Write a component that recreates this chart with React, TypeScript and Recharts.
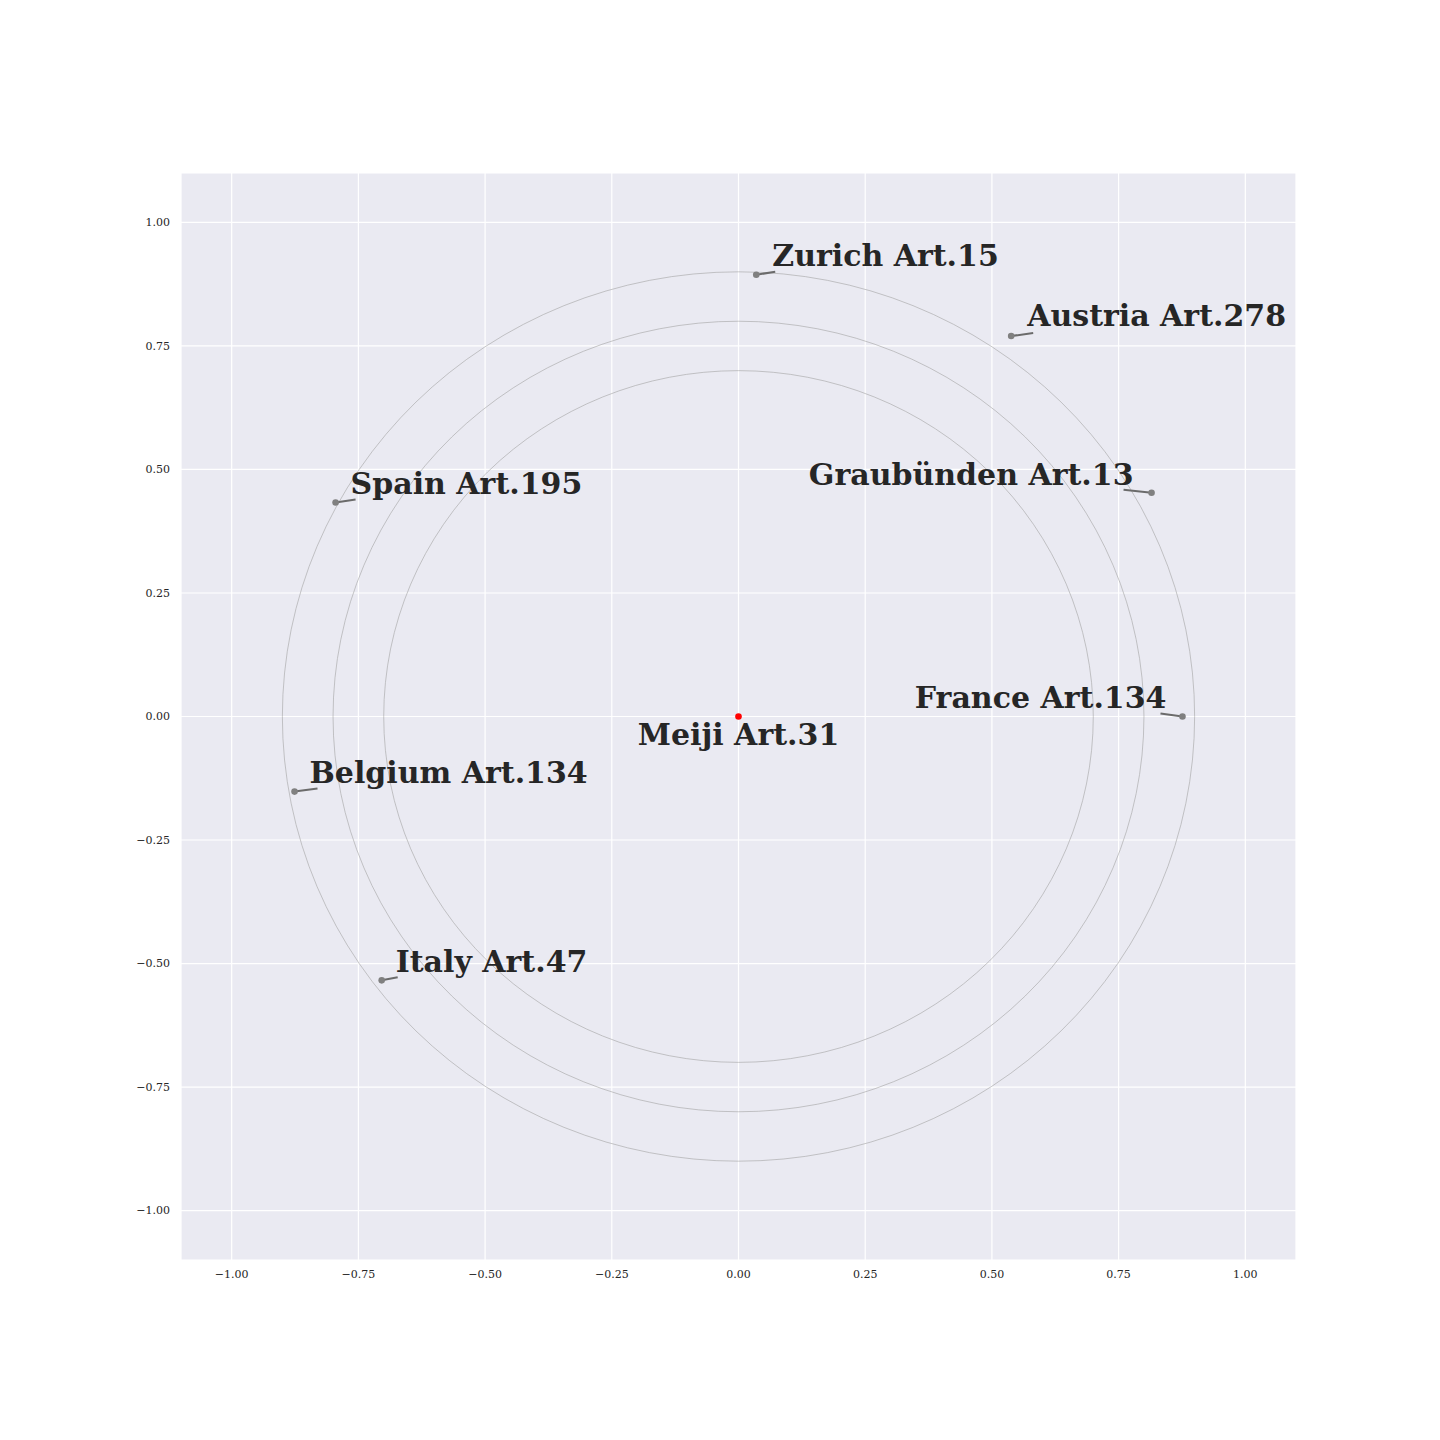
import { CartesianGrid, ReferenceArea, Scatter, ScatterChart, XAxis, YAxis } from 'recharts';

// anchor constitution and the articles it is compared with
const CENTER_NAME = 'Meiji';
const CENTER_ARTICLE = 'Art.31';
const CENTER_X = [0];
const CENTER_Y = [0];

const COUNTRIES = ['Zurich', 'Austria', 'Graubünden', 'France', 'Spain', 'Belgium', 'Italy'];
const ARTICLES = ['Art.15', 'Art.278', 'Art.13', 'Art.134', 'Art.195', 'Art.134', 'Art.47'];
const X_VALUES = [0.035, 0.538, 0.815, 0.876, -0.795, -0.876, -0.704];
const Y_VALUES = [0.894, 0.77, 0.453, 0.0, 0.433, -0.152, -0.534];

const RING_RADII = [0.7, 0.8, 0.9];
const TICKS = [-1, -0.75, -0.5, -0.25, 0, 0.25, 0.5, 0.75, 1];

// label placement relative to its point (px): text anchor offset + leader line end
const LABEL_LAYOUT: Record<string, { dx: number; dy: number; anchor: 'start' | 'end' | 'middle'; lx: number; ly: number }> = {
  Zurich: { dx: 16, dy: -9, anchor: 'start', lx: 19, ly: -3 },
  Austria: { dx: 16, dy: -10, anchor: 'start', lx: 22, ly: -3 },
  'Graubünden': { dx: -18, dy: -8, anchor: 'end', lx: -28, ly: -3 },
  France: { dx: -16, dy: -9, anchor: 'end', lx: -22, ly: -3 },
  Spain: { dx: 15, dy: -9, anchor: 'start', lx: 20, ly: -3 },
  Belgium: { dx: 15, dy: -9, anchor: 'start', lx: 23, ly: -3 },
  Italy: { dx: 14, dy: -8, anchor: 'start', lx: 16, ly: -3 },
  Meiji: { dx: 0, dy: 28, anchor: 'middle', lx: 0, ly: 0 },
};

const points = COUNTRIES.map((name, i) => ({
  name,
  article: ARTICLES[i],
  x: X_VALUES[i],
  y: Y_VALUES[i],
}));

const center = CENTER_X.map((x, i) => ({ name: CENTER_NAME, article: CENTER_ARTICLE, x, y: CENTER_Y[i] }));

const LABEL_FONT = 'DejaVu Serif, Liberation Serif, serif';

const fmtTick = (v: number) => v.toFixed(2).replace('-', '\u2212');

function LabeledPoint(props: any) {
  const { cx, cy, payload, color } = props;
  const lay = LABEL_LAYOUT[payload.name];
  return (
    <g>
      {(lay.lx !== 0 || lay.ly !== 0) && (
        <line x1={cx} y1={cy} x2={cx + lay.lx} y2={cy + lay.ly} stroke="#6b6b6b" strokeWidth={2} />
      )}
      <circle cx={cx} cy={cy} r={3.3} fill={color} />
      <text
        x={cx + lay.dx}
        y={cy + lay.dy}
        textAnchor={lay.anchor}
        fontFamily={LABEL_FONT}
        fontWeight="bold"
        fontSize={30}
        fill="#262626"
      >
        {`${payload.name} ${payload.article}`}
      </text>
    </g>
  );
}

function Ring(props: any) {
  const { x, y, width, height } = props;
  return (
    <ellipse
      cx={x + width / 2}
      cy={y + height / 2}
      rx={width / 2}
      ry={height / 2}
      fill="none"
      stroke="#a3a3a3"
      strokeWidth={0.6}
    />
  );
}

export default function App() {
  return (
    <div style={{ position: 'absolute', left: 0, top: 0, width: 1440, height: 1440, background: '#fff' }}>
      <ScatterChart width={1440} height={1440} margin={{ top: 173, right: 144, bottom: 150, left: 0 }}>
        <CartesianGrid fill="#EAEAF2" stroke="#ffffff" strokeWidth={1.2} />
        <XAxis
          type="number"
          dataKey="x"
          domain={[-1.1, 1.1]}
          ticks={TICKS}
          tickFormatter={fmtTick}
          axisLine={false}
          tickLine={false}
          tickSize={0}
          tickMargin={10}
          height={30}
          allowDataOverflow
          tick={{ fontFamily: LABEL_FONT, fontSize: 11, fill: '#262626' }}
        />
        <YAxis
          type="number"
          dataKey="y"
          domain={[-1.1, 1.1]}
          ticks={TICKS}
          tickFormatter={fmtTick}
          axisLine={false}
          tickLine={false}
          tickSize={0}
          tickMargin={11}
          width={181}
          allowDataOverflow
          tick={{ fontFamily: LABEL_FONT, fontSize: 11, fill: '#262626' }}
        />
        {RING_RADII.map((r) => (
          <ReferenceArea key={r} x1={-r} x2={r} y1={-r} y2={r} shape={<Ring />} />
        ))}
        <Scatter
          data={points}
          isAnimationActive={false}
          shape={(p: any) => <LabeledPoint {...p} color="#808080" />}
        />
        <Scatter
          data={center}
          isAnimationActive={false}
          shape={(p: any) => <LabeledPoint {...p} color="#ff0000" />}
        />
      </ScatterChart>
    </div>
  );
}
